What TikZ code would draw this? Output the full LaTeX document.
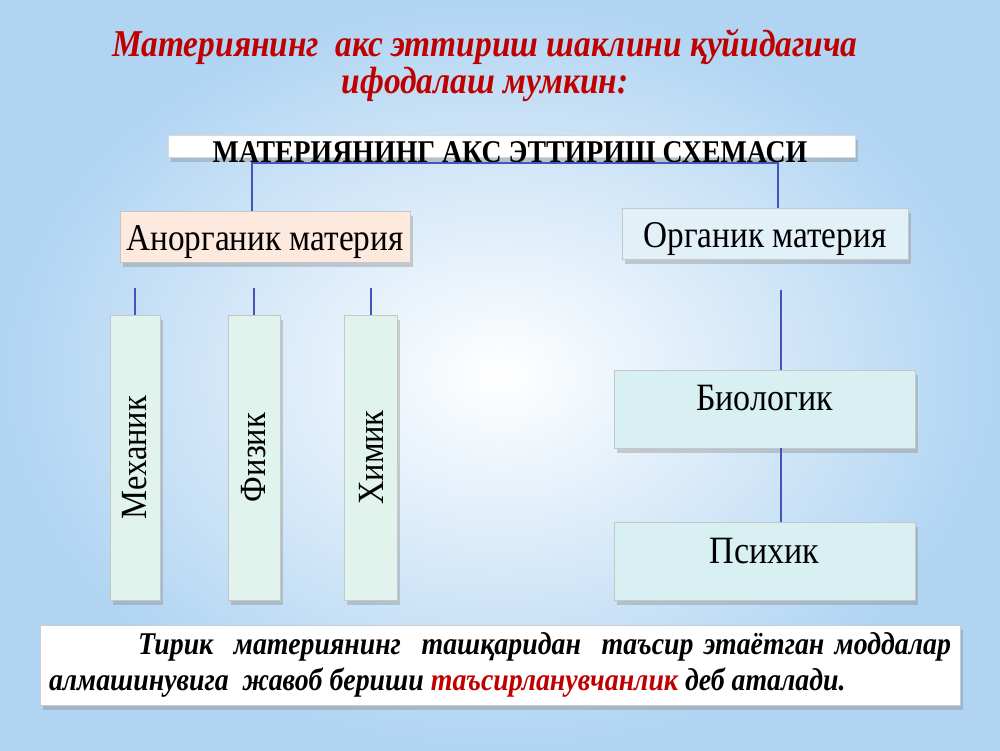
\documentclass[tikz,border=0pt]{standalone}
\usepackage{fontspec}
\setmainfont[FakeStretch=0.88]{Liberation Serif}
\usetikzlibrary{positioning, shadows}
\definecolor{slidered}{RGB}{192,0,0}
\definecolor{linkblue}{RGB}{68,84,186}
\definecolor{bgblue}{RGB}{176,212,242}
\definecolor{peach}{RGB}{253,233,221}
\definecolor{paleblue}{RGB}{226,241,248}
\definecolor{mint}{RGB}{224,243,236}
\definecolor{paleteal}{RGB}{217,240,243}

\begin{document}
\begin{tikzpicture}[
    node distance=1.48cm,
    soft/.style={drop shadow={opacity=0.35, shadow xshift=0.05cm, shadow yshift=-0.09cm}},
    kind/.style={rectangle, draw=gray!45, minimum height=1.0cm, inner sep=2pt, text height=0.72cm, text depth=0.17cm, font=\fontsize{21.5}{24}\selectfont, soft},
    branch/.style={rectangle, draw=gray!45, fill=mint, rotate=90, minimum width=5.7cm, minimum height=1.04cm, font=\fontsize{21}{24}\selectfont, soft},
    level/.style={rectangle, draw=gray!45, fill=paleteal, minimum width=6.02cm, minimum height=1.56cm, text depth=0.45cm, font=\fontsize{22}{24}\selectfont, soft},
    link/.style={linkblue, line width=1.3pt}
]
\useasboundingbox (0,0) rectangle (20,-15);
\fill[inner color=white, outer color=bgblue] (0,0) rectangle (20,-15);

% title
\node[align=center, text=slidered, font=\bfseries\itshape\fontsize{21.6}{21}\selectfont] (title) at (9.7,-1.3)
    {Материянинг\ \ акс эттириш шаклини қуйидагича\\ифодалаш мумкин:};

% header
\node[rectangle, fill=white, draw=gray!30, minimum width=13.74cm, minimum height=0.44cm, soft] (hdr) at (10.23,-2.92) {};
\node[font=\bfseries\fontsize{18}{20}\selectfont] (hdrtitle) at (10.2,-3.04) {МАТЕРИЯНИНГ АКС ЭТТИРИШ СХЕМАСИ};

% two kinds of matter
\node[kind, fill=peach, minimum width=5.8cm] (anorg) at (5.3,-4.74) {Анорганик материя};
\node[kind, fill=paleblue, minimum width=5.72cm, minimum height=0.96cm] (org) at (15.3,-4.68) {Органик материя};

\coordinate (split) at (5.04,-3.26);
\coordinate (splitR) at (15.56,-3.26);
\draw[link] (anorg.north -| split) -- (split) -- (splitR) -- (org.north -| splitR);

% inorganic forms
\node[branch, minimum height=1.0cm] (mech) at (2.7,-9.15) {Механик};
\node[branch] (phys) at (5.08,-9.15) {Физик};
\node[branch, minimum height=1.06cm] (chem) at (7.42,-9.15) {Химик};

\draw[link] (mech.east) -- ++(0,0.54);
\draw[link] (phys.east) -- ++(0,0.54);
\draw[link] (chem.east) -- ++(0,0.54);

% organic forms
\node[level] (bio) at (15.29,-8.18) {Биологик};
\node[level, below=1.48cm of bio] (psy) {Психик};

\coordinate (orgdrop) at (15.62,-5.8);
\draw[link] (orgdrop) -- (orgdrop |- bio.north);
\draw[link] (bio.south -| orgdrop) -- (psy.north -| orgdrop);

% definition
\node[rectangle, fill=white, draw=gray!40, minimum width=18.4cm, minimum height=1.6cm, text width=18.04cm, align=justify,
      font=\bfseries\itshape\fontsize{18}{20.5}\selectfont, soft] (note) at (10,-13.3)
    {\hspace*{1.78cm}Тирик\ \ материянинг\ \ ташқаридан\ \ таъсир этаётган моддалар\linebreak
     алмашинувига\ \ жавоб бериши \textcolor{slidered}{таъсирланувчанлик} деб аталади.};
\end{tikzpicture}
\end{document}
